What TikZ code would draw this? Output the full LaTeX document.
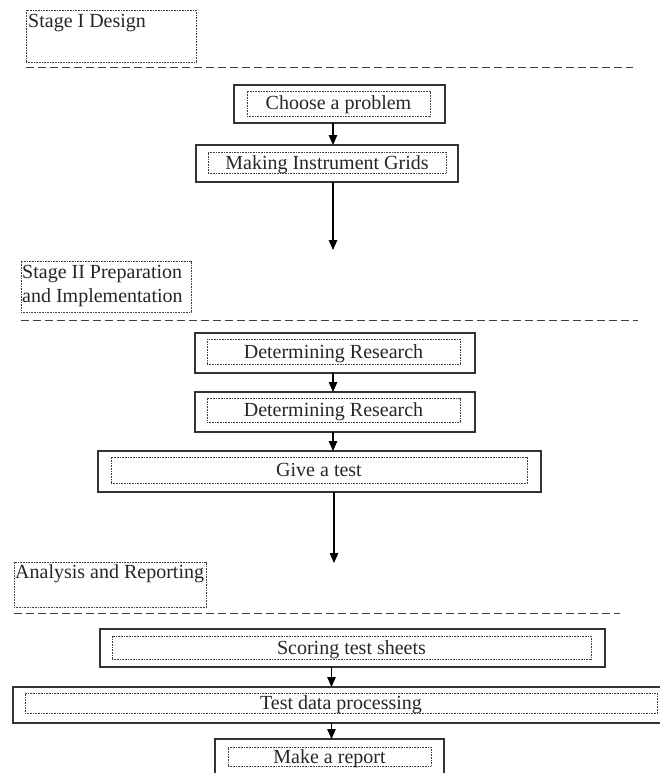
\documentclass[tikz,border=0pt]{standalone}
\usepackage{fontspec}
\setmainfont{Liberation Serif}
\usetikzlibrary{arrows.meta}
\tikzset{
  outerbox/.style={draw=black!80, line width=1.3pt, inner sep=0pt, outer sep=0pt},
  innerbox/.style={draw=black!75, line width=0.9pt, dash pattern=on 1pt off 0.6pt, inner sep=0pt, outer sep=0pt, align=center, font=\fontsize{20}{24}\selectfont, text=black!85, text height=13pt, text depth=0pt},
  stagebox/.style={draw=black!75, line width=0.9pt, dash pattern=on 1pt off 0.6pt, inner sep=0pt, outer sep=0pt},
  stagetext/.style={inner sep=0pt, anchor=base west, font=\fontsize{20}{24}\selectfont, text=black!85},
  sepline/.style={draw=black!75, line width=1pt, dash pattern=on 8pt off 4pt},
  arr/.style={draw=black, line width=1.1pt, -{Triangle[width=8.5pt,length=10pt]}}
}
\begin{document}
\begin{tikzpicture}[x=1pt,y=-1pt]
\useasboundingbox (0,0) rectangle (659,773);
\coordinate (axis) at (333,0);
\coordinate (axisb) at (331.5,0);

% Stage I
\node[stagebox, minimum width=170pt, minimum height=52pt] (s1) at (111,36) {};
\node[stagetext] (s1t) at (28,28) {Stage I Design};
\coordinate (d1a) at (26,68); \coordinate (d1b) at (633,68);
\draw[sepline] (d1a) -- (d1b);

\node[outerbox, minimum width=211pt, minimum height=38pt] (choose) at (339.5,104) {};
\node[innerbox, minimum width=183pt, minimum height=25pt] (choosei) at (338.5,103.5) {Choose a problem};
\node[outerbox, minimum width=262pt, minimum height=37pt] (making) at (327,163.5) {};
\node[innerbox, minimum width=238pt, minimum height=21pt] (makingi) at (327,162.5) {Making Instrument Grids};
\coordinate (end1) at (333,250);
\draw[arr] (choose.south -| axis) -- (making.north -| axis);
\draw[arr] (making.south -| axis) -- (end1);

% Stage II
\node[stagebox, minimum width=170pt, minimum height=51pt] (s2) at (106,286.5) {};
\node[stagetext] (s2t) at (22,278) {Stage II Preparation};
\node[stagetext] (s2u) at (22,302) {and Implementation};
\coordinate (d2a) at (21,320); \coordinate (d2b) at (638,320);
\draw[sepline] (d2a) -- (d2b);

\node[outerbox, minimum width=280pt, minimum height=40pt] (det1) at (335,353) {};
\node[innerbox, minimum width=253pt, minimum height=25pt] (det1i) at (333.5,351.5) {Determining Research};
\node[outerbox, minimum width=280pt, minimum height=40pt] (det2) at (335,412) {};
\node[innerbox, minimum width=253pt, minimum height=24pt] (det2i) at (333.5,410) {Determining Research};
\node[outerbox, minimum width=443pt, minimum height=41pt] (give) at (319.5,471.5) {};
\node[innerbox, minimum width=416pt, minimum height=26pt] (givei) at (319,470) {Give a test};
\coordinate (end2) at (334,563);
\draw[arr] (det1.south -| axis) -- (det2.north -| axis);
\draw[arr] (det2.south -| axis) -- (give.north -| axis);
\draw[arr] (give.south -| end2) -- (end2);

% Stage III
\node[stagebox, minimum width=192pt, minimum height=45pt] (s3) at (110,584.5) {};
\node[stagetext] (s3t) at (15,578) {Analysis and Reporting};
\coordinate (d3a) at (14,613); \coordinate (d3b) at (620,613);
\draw[sepline] (d3a) -- (d3b);

\node[outerbox, minimum width=505pt, minimum height=38pt] (score) at (352.5,648) {};
\node[innerbox, minimum width=479pt, minimum height=23pt] (scorei) at (351.5,647.5) {Scoring test sheets};
\node[outerbox, minimum width=652pt, minimum height=36pt] (test) at (339,705) {};
\node[innerbox, minimum width=632pt, minimum height=20pt] (testi) at (341,703) {Test data processing};
\node[outerbox, minimum width=229pt, minimum height=41pt] (report) at (329.5,759.5) {};
\node[innerbox, minimum width=203pt, minimum height=19pt] (reporti) at (329.5,756.5) {Make a report};
\draw[arr] (score.south -| axisb) -- (test.north -| axisb);
\draw[arr] (test.south -| axisb) -- (report.north -| axisb);
\end{tikzpicture}
\end{document}
